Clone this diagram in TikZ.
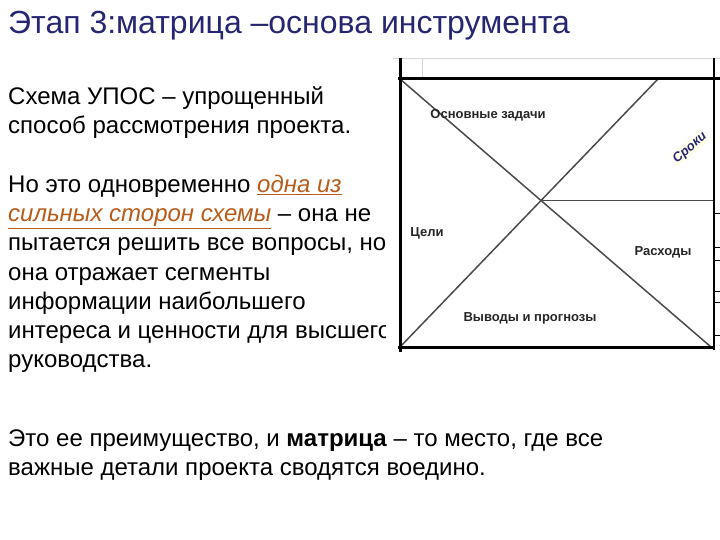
\documentclass[tikz,border=0pt]{standalone}
\usepackage{fontspec}
\setmainfont{Liberation Sans}
\definecolor{TitleNavy}{RGB}{38, 38, 115}
\definecolor{LinkOrange}{RGB}{184, 92, 28}
\definecolor{GridGray}{RGB}{215, 215, 215}
\definecolor{LineGray}{RGB}{75, 75, 75}

\begin{document}
\begin{tikzpicture}[x=1pt,y=-1pt,
    bodyline/.style={anchor=base west,inner sep=0pt,font=\fontsize{24}{28}\selectfont},
    celltext/.style={inner sep=1pt,text=black!85,font=\fontsize{13}{15}\selectfont\bfseries}]
    \useasboundingbox (0,0) rectangle (720,540);

    \node[anchor=base west,inner sep=0pt,text=TitleNavy,font=\fontsize{32}{36}\selectfont] (title) at (8,34) {Этап 3:матрица –основа инструмента};

    \node[bodyline] (l1) at (8,105) {Схема УПОС – упрощенный};
    \node[bodyline] (l2) at (8,134) {способ рассмотрения проекта.};
    \node[bodyline] (l3) at (8,193) {Но это одновременно \textcolor{LinkOrange}{\underline{\textit{одна из}}}};
    \node[bodyline] (l4) at (8,222) {\textcolor{LinkOrange}{\underline{\textit{сильных сторон схемы}}} – она не};
    \node[bodyline] (l5) at (8,251) {пытается решить все вопросы, но};
    \node[bodyline] (l6) at (8,280) {она отражает сегменты};
    \node[bodyline] (l7) at (8,309) {информации наибольшего};
    \node[bodyline] (l8) at (8,338) {интереса и ценности для высшего};
    \node[bodyline] (l9) at (8,367) {руководства.};

    \node[bodyline] (l10) at (8,446) {Это ее преимущество, и \textbf{матрица} – то место, где все};
    \node[bodyline] (l11) at (8,475) {важные детали проекта сводятся воедино.};

    % the matrix picture lies over the text
    \fill[white] (386,52) rectangle (720,372);
    \coordinate (tl) at (400,79);
    \coordinate (tr) at (714,79);
    \coordinate (bl) at (400,347);
    \coordinate (br) at (714,347);
    \coordinate (tt) at (658,79);
    \coordinate (bb) at (711,347);

    \draw[GridGray, thin] (393,58)--(720,58);
    \draw[GridGray, thin] (422,58)--(422,79);

    \draw[LineGray, line width=1.5pt] (tl)--(bb);
    \draw[LineGray, line width=1.5pt] (bl)--(tt);
    \coordinate (mid) at (intersection of tl--bb and bl--tt);
    \draw[LineGray, line width=1.5pt] (mid)--(tr|-mid);

    \draw[black, line width=3pt] (398,79)--(720,79);
    \draw[black, line width=3pt] (400,58)--(400,352);
    \draw[black, line width=3pt] (398,347)--(br);
    \draw[black, line width=2.5pt] (714,58)--(714,350);
    \foreach \y in {213,247,260,291,302,335}
        \draw[black, thick] (714,\y)--(720,\y);

    \node[celltext] (tasks) at (488,115) {Основные задачи};
    \node[celltext,text=TitleNavy,fill=yellow!8,rotate=40,font=\fontsize{13}{15}\selectfont\bfseries\itshape] (terms) at (690,148) {Сроки};
    \node[celltext] (goals) at (427,233) {Цели};
    \node[celltext] (costs) at (663,252) {Расходы};
    \node[celltext] (concl) at (530,318) {Выводы и прогнозы};
\end{tikzpicture}
\end{document}
